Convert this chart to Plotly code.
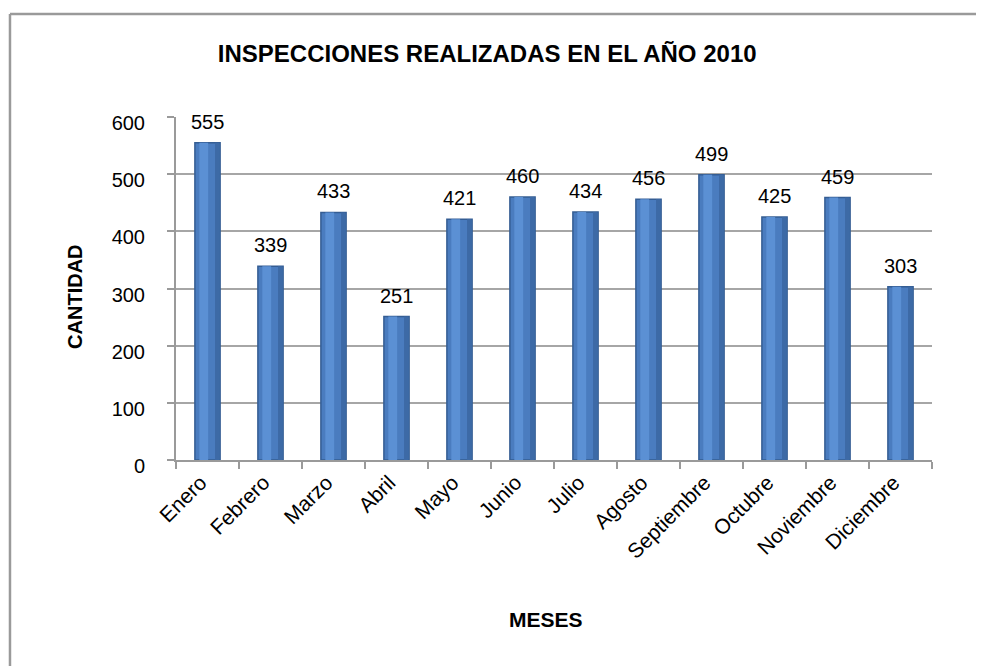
import plotly.graph_objects as go

# Data
months = ["Enero", "Febrero", "Marzo", "Abril", "Mayo", "Junio", "Julio",
          "Agosto", "Septiembre", "Octubre", "Noviembre", "Diciembre"]
inspections = [555, 339, 433, 251, 421, 460, 434, 456, 499, 425, 459, 303]
y_ticks = [0, 100, 200, 300, 400, 500, 600]

narrow = "Liberation Sans Narrow, Arial Narrow, Liberation Sans, Arial, sans-serif"
regular = "Liberation Sans, Arial, sans-serif"

fig = go.Figure()

# Cylinder body (dark outline + mid blue)
fig.add_trace(
    go.Bar(
        x=months,
        y=inspections,
        width=0.40,
        marker=dict(color="#4A7CBF", line=dict(color="#345D93", width=1.5)),
        hoverinfo="x+y",
    )
)
# Highlight stripe to suggest the cylinder shading
fig.add_trace(
    go.Bar(
        x=months,
        y=inspections,
        width=0.14,
        offset=-0.13,
        marker=dict(color="#5B90D4", line=dict(width=0)),
        hoverinfo="skip",
    )
)
# Darker right edge
fig.add_trace(
    go.Bar(
        x=months,
        y=inspections,
        width=0.07,
        offset=0.12,
        marker=dict(color="#3D6AA6", line=dict(width=0)),
        hoverinfo="skip",
    )
)

# Value labels above the cylinders
for m, v in zip(months, inspections):
    fig.add_annotation(x=m, y=v, text=str(v), showarrow=False,
                       yanchor="bottom", yshift=8,
                       font=dict(family=narrow, size=20, color="#000000"))

# Frame around the chart area (left and top edges visible)
fig.add_shape(type="line", xref="paper", yref="paper",
              x0=-0.2196, x1=-0.2196, y0=-1.0, y1=1.3003,
              line=dict(color="#9A9A9A", width=2.5))
fig.add_shape(type="line", xref="paper", yref="paper",
              x0=-0.2196, x1=1.2, y0=1.3003, y1=1.3003,
              line=dict(color="#9A9A9A", width=2.5))

# Axis titles
fig.add_annotation(text="<b>CANTIDAD</b>", xref="paper", yref="paper",
                   x=-0.151, y=0.475, textangle=-90, showarrow=False,
                   font=dict(family=narrow, size=20, color="#000000"))
fig.add_annotation(text="<b>MESES</b>", xref="paper", yref="paper",
                   x=0.489, y=-0.504, showarrow=False,
                   font=dict(family=narrow, size=21, color="#000000"))

fig.update_layout(
    width=984,
    height=666,
    barmode="overlay",
    showlegend=False,
    plot_bgcolor="#FFFFFF",
    paper_bgcolor="#FFFFFF",
    margin=dict(l=168, r=60, t=109, b=214),
    title=dict(
        text="<b>INSPECCIONES REALIZADAS EN EL AÑO 2010</b>",
        x=0.487, xanchor="center", y=0.932, yanchor="middle",
        font=dict(family=narrow, size=24, color="#000000"),
    ),
    xaxis=dict(
        tickangle=-45,
        tickfont=dict(family=regular, size=21, color="#000000"),
        ticklabelstandoff=0,
        ticklabelshift=-7,
        showline=True, linecolor="#9A9A9A", linewidth=2,
        ticks="outside", tickson="boundaries", ticklen=7,
        tickcolor="#9A9A9A", tickwidth=2,
    ),
    yaxis=dict(
        range=[0, 600],
        tickvals=y_ticks,
        tickfont=dict(family=narrow, size=20, color="#000000"),
        ticklabelstandoff=18,
        ticklabelshift=6,
        showgrid=True, gridcolor="#A6A6A6", gridwidth=2,
        showline=True, linecolor="#9A9A9A", linewidth=2,
        ticks="outside", ticklen=7, tickcolor="#9A9A9A", tickwidth=2,
        zeroline=False,
    ),
)

fig.write_html("out.html")
